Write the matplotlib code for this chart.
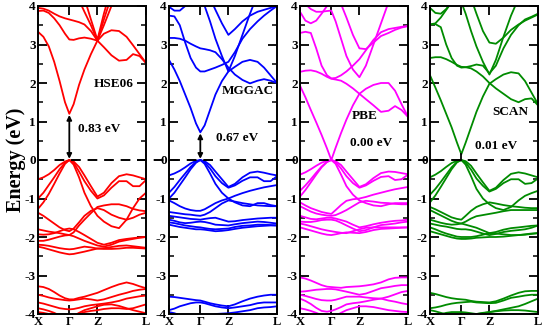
import matplotlib
matplotlib.use('Agg')
import matplotlib.pyplot as plt
from matplotlib.lines import Line2D
from matplotlib.transforms import blended_transform_factory
import matplotlib.ticker as mt

plt.rcParams['font.family'] = ['Liberation Serif', 'DejaVu Serif']
plt.rcParams['font.weight'] = 'bold'

# k-path sample positions (X ... Γ ... Z ... L)
K = [0.0, 0.05, 0.10, 0.15, 0.20, 0.25, 0.29, 0.33, 0.38, 0.43, 0.49,
     0.55, 0.61, 0.68, 0.75, 0.82, 0.88, 0.94, 1.0]
kticks = [0.0, 0.29, 0.55, 1.0]
klabels = ['X', 'Γ', 'Z', 'L']

methods = ['HSE06', 'MGGAC', 'PBE', 'SCAN']
gap_labels = ['0.83 eV', '0.67 eV', '0.00 eV', '0.01 eV']
colors = ['#ff0000', '#0000ff', '#ff00ff', '#008b00']

hse_bands = [
    [3.33, 3.2, 2.95, 2.55, 2.05, 1.5, 1.2, 1.45, 1.95, 2.35, 2.75, 3.1, 3.28, 3.37, 3.35, 3.2, 2.98, 2.75, 2.52],
    [3.87, 3.88, 3.82, 3.68, 3.5, 3.28, 3.13, 3.12, 3.16, 3.18, 3.15, 3.1, 2.93, 2.72, 2.58, 2.6, 2.75, 2.7, 2.52],
    [3.95, 3.93, 3.88, 3.8, 3.73, 3.68, 3.65, 3.62, 3.58, 3.52, 3.35, 3.1, 3.5, 4.0, 4.5, 5, 5, 5, 5],
    [5, 5, 5, 5, 5, 4.8, 4.6, 4.4, 4.15, 3.85, 3.5, 3.1, 3.65, 4.25, 4.8, 5, 5, 5, 5],
    [5, 5, 5, 5, 5, 5, 5, 5, 4.7, 4.2, 3.65, 3.12, 3.8, 4.5, 5, 5, 5, 5, 5],
    [-0.5, -0.45, -0.37, -0.26, -0.13, -0.04, 0.0, -0.04, -0.18, -0.4, -0.68, -0.95, -0.85, -0.6, -0.42, -0.37, -0.4, -0.45, -0.5],
    [-1.0, -0.85, -0.65, -0.45, -0.24, -0.07, 0.0, -0.07, -0.3, -0.55, -0.8, -1.0, -0.92, -0.72, -0.55, -0.55, -0.68, -0.68, -0.52],
    [-1.27, -1.1, -0.88, -0.62, -0.35, -0.1, 0.0, -0.12, -0.45, -0.85, -1.2, -1.45, -1.6, -1.72, -1.77, -1.55, -1.25, -1.0, -0.85],
    [-1.37, -1.45, -1.55, -1.65, -1.75, -1.82, -1.85, -1.78, -1.62, -1.45, -1.32, -1.25, -1.3, -1.42, -1.5, -1.55, -1.5, -1.42, -1.37],
    [-1.8, -1.83, -1.86, -1.88, -1.9, -1.93, -1.95, -1.88, -1.7, -1.55, -1.38, -1.22, -1.18, -1.15, -1.15, -1.2, -1.27, -1.31, -1.33],
    [-1.93, -1.94, -1.93, -1.9, -1.85, -1.8, -1.78, -1.8, -1.87, -1.95, -2.05, -2.15, -2.2, -2.15, -2.08, -2.05, -2.03, -2.01, -2.0],
    [-2.1, -2.1, -2.07, -2.03, -1.99, -1.96, -1.95, -1.98, -2.04, -2.1, -2.16, -2.22, -2.25, -2.2, -2.12, -2.08, -2.05, -2.02, -2.0],
    [-2.2, -2.21, -2.23, -2.26, -2.29, -2.31, -2.32, -2.31, -2.28, -2.25, -2.27, -2.3, -2.29, -2.26, -2.23, -2.22, -2.24, -2.26, -2.28],
    [-2.25, -2.28, -2.32, -2.36, -2.4, -2.43, -2.45, -2.44, -2.41, -2.38, -2.34, -2.3, -2.31, -2.31, -2.3, -2.28, -2.28, -2.29, -2.3],
    [-3.28, -3.3, -3.35, -3.43, -3.52, -3.59, -3.62, -3.62, -3.58, -3.55, -3.5, -3.45, -3.38, -3.3, -3.23, -3.18, -3.22, -3.28, -3.33],
    [-3.5, -3.53, -3.57, -3.6, -3.62, -3.64, -3.65, -3.64, -3.62, -3.6, -3.62, -3.65, -3.62, -3.56, -3.5, -3.45, -3.4, -3.37, -3.35],
    [-3.7, -3.73, -3.77, -3.81, -3.85, -3.87, -3.88, -3.87, -3.84, -3.8, -3.77, -3.75, -3.73, -3.7, -3.66, -3.6, -3.57, -3.54, -3.52],
    [-3.85, -3.88, -3.92, -3.97, -4.04, -4.08, -4.1, -4.05, -3.97, -3.9, -3.85, -3.8, -3.76, -3.75, -3.79, -3.85, -3.9, -3.94, -3.98],
    [-3.95, -3.97, -4.0, -4.03, -4.05, -4.05, -4.05, -4.03, -4.0, -3.95, -3.92, -3.9, -3.87, -3.85, -3.85, -3.87, -3.85, -3.8, -3.75],
]

mggac_bands = [
    [2.6, 2.35, 2.05, 1.7, 1.35, 0.95, 0.72, 0.9, 1.3, 1.7, 2.05, 2.3, 2.42, 2.55, 2.6, 2.55, 2.4, 2.2, 2.0],
    [3.17, 3.17, 3.15, 3.1, 3.02, 2.95, 2.9, 2.88, 2.85, 2.8, 2.62, 2.4, 2.22, 2.08, 1.99, 2.06, 2.1, 2.06, 2.0],
    [3.75, 3.73, 3.5, 3.05, 2.65, 2.4, 2.3, 2.3, 2.35, 2.4, 2.47, 2.55, 2.8, 3.15, 3.4, 3.6, 3.75, 3.88, 4.0],
    [5, 5, 5, 4.8, 4.6, 4.4, 4.3, 4.0, 3.6, 3.15, 2.7, 2.3, 2.7, 3.25, 3.8, 4.3, 5, 5, 5],
    [5, 5, 5, 5, 5, 5, 4.6, 4.45, 4.2, 3.9, 3.55, 3.25, 3.4, 3.6, 3.75, 3.85, 3.9, 3.95, 4.0],
    [3.98, 3.88, 3.88, 4.0, 4.15, 4.3, 5, 5, 5, 5, 5, 5, 5, 5, 5, 5, 5, 5, 5],
    [-0.4, -0.35, -0.28, -0.19, -0.09, -0.02, 0.0, -0.03, -0.13, -0.3, -0.5, -0.7, -0.62, -0.45, -0.33, -0.3, -0.33, -0.37, -0.4],
    [-0.85, -0.7, -0.52, -0.35, -0.18, -0.05, 0.0, -0.06, -0.22, -0.42, -0.6, -0.72, -0.66, -0.54, -0.45, -0.45, -0.55, -0.55, -0.42],
    [-1.0, -0.85, -0.65, -0.45, -0.24, -0.07, 0.0, -0.1, -0.35, -0.62, -0.85, -1.0, -1.1, -1.18, -1.2, -1.12, -1.12, -1.17, -1.2],
    [-1.05, -1.12, -1.2, -1.26, -1.3, -1.32, -1.32, -1.28, -1.2, -1.12, -1.05, -1.0, -0.93, -0.86, -0.8, -0.75, -0.71, -0.68, -0.65],
    [-1.35, -1.37, -1.39, -1.41, -1.42, -1.44, -1.45, -1.42, -1.35, -1.25, -1.13, -1.05, -1.08, -1.12, -1.15, -1.18, -1.19, -1.2, -1.2],
    [-1.45, -1.47, -1.49, -1.51, -1.53, -1.54, -1.55, -1.53, -1.51, -1.5, -1.55, -1.6, -1.59, -1.56, -1.54, -1.52, -1.51, -1.5, -1.5],
    [-1.55, -1.58, -1.62, -1.64, -1.63, -1.61, -1.6, -1.61, -1.64, -1.68, -1.69, -1.7, -1.67, -1.64, -1.62, -1.6, -1.61, -1.63, -1.65],
    [-1.62, -1.64, -1.67, -1.7, -1.72, -1.74, -1.75, -1.77, -1.79, -1.8, -1.79, -1.78, -1.74, -1.71, -1.7, -1.68, -1.68, -1.69, -1.7],
    [-1.68, -1.71, -1.74, -1.76, -1.78, -1.8, -1.8, -1.81, -1.83, -1.85, -1.84, -1.82, -1.79, -1.76, -1.74, -1.72, -1.71, -1.7, -1.7],
    [-3.55, -3.56, -3.58, -3.6, -3.62, -3.64, -3.65, -3.68, -3.72, -3.75, -3.78, -3.8, -3.75, -3.67, -3.6, -3.55, -3.52, -3.5, -3.5],
    [-3.9, -3.86, -3.8, -3.76, -3.72, -3.7, -3.7, -3.72, -3.76, -3.8, -3.83, -3.85, -3.83, -3.8, -3.77, -3.72, -3.7, -3.7, -3.7],
    [-3.95, -3.98, -4.03, -4.07, -4.1, -4.1, -4.1, -4.08, -4.05, -4.0, -3.99, -3.98, -3.96, -3.93, -3.9, -3.85, -3.83, -3.82, -3.8],
]

pbe_bands = [
    [1.93, 1.63, 1.3, 0.98, 0.65, 0.3, 0.0, 0.32, 0.7, 1.05, 1.42, 1.72, 1.85, 1.95, 2.0, 2.0, 1.8, 1.45, 1.12],
    [2.29, 2.32, 2.33, 2.3, 2.24, 2.16, 2.11, 2.09, 2.06, 1.98, 1.86, 1.72, 1.58, 1.42, 1.25, 1.28, 1.4, 1.3, 1.12],
    [3.3, 3.33, 3.3, 2.9, 2.45, 2.2, 2.12, 2.13, 2.2, 2.3, 2.45, 2.62, 2.85, 3.12, 3.32, 3.4, 3.43, 3.46, 3.48],
    [4.2, 4.05, 3.92, 3.85, 3.85, 3.87, 3.88, 3.6, 3.15, 2.7, 2.35, 2.15, 2.45, 3.0, 3.55, 4.1, 5, 5, 5],
    [5, 5, 5, 5, 5, 4.8, 4.6, 4.35, 4.05, 3.7, 3.25, 2.9, 2.88, 3.05, 3.22, 3.3, 3.38, 3.44, 3.48],
    [3.85, 3.62, 3.55, 3.62, 3.8, 4.0, 4.15, 4.4, 4.8, 5, 5, 5, 5, 5, 5, 5, 5, 5, 5],
    [-0.38, -0.32, -0.24, -0.15, -0.07, -0.02, 0.0, -0.03, -0.13, -0.3, -0.5, -0.7, -0.63, -0.47, -0.34, -0.3, -0.31, -0.34, -0.37],
    [-0.8, -0.66, -0.5, -0.33, -0.17, -0.05, 0.0, -0.06, -0.22, -0.42, -0.6, -0.72, -0.66, -0.54, -0.44, -0.42, -0.52, -0.5, -0.38],
    [-0.95, -0.78, -0.58, -0.38, -0.19, -0.05, 0.0, -0.1, -0.38, -0.68, -0.9, -1.05, -1.12, -1.18, -1.2, -1.15, -1.12, -1.12, -1.12],
    [-1.1, -1.18, -1.25, -1.3, -1.35, -1.38, -1.4, -1.3, -1.17, -1.06, -1.02, -1.0, -0.96, -0.9, -0.85, -0.8, -0.76, -0.73, -0.7],
    [-1.2, -1.27, -1.34, -1.39, -1.42, -1.44, -1.45, -1.43, -1.37, -1.3, -1.2, -1.1, -1.06, -1.08, -1.11, -1.12, -1.14, -1.15, -1.15],
    [-1.45, -1.49, -1.53, -1.54, -1.52, -1.5, -1.5, -1.52, -1.56, -1.6, -1.68, -1.75, -1.72, -1.67, -1.63, -1.6, -1.58, -1.57, -1.55],
    [-1.6, -1.61, -1.61, -1.59, -1.56, -1.55, -1.55, -1.57, -1.63, -1.7, -1.78, -1.85, -1.82, -1.75, -1.69, -1.67, -1.65, -1.62, -1.6],
    [-1.65, -1.68, -1.72, -1.76, -1.8, -1.83, -1.85, -1.87, -1.89, -1.9, -1.85, -1.8, -1.76, -1.75, -1.75, -1.75, -1.75, -1.75, -1.75],
    [-1.75, -1.79, -1.83, -1.87, -1.91, -1.94, -1.95, -1.93, -1.9, -1.88, -1.89, -1.9, -1.87, -1.82, -1.79, -1.78, -1.77, -1.76, -1.75],
    [-3.05, -3.08, -3.13, -3.19, -3.25, -3.29, -3.3, -3.31, -3.32, -3.3, -3.29, -3.28, -3.26, -3.23, -3.18, -3.1, -3.06, -3.05, -3.05],
    [-3.42, -3.41, -3.39, -3.37, -3.36, -3.35, -3.35, -3.36, -3.39, -3.42, -3.46, -3.5, -3.47, -3.4, -3.33, -3.3, -3.27, -3.25, -3.25],
    [-3.5, -3.53, -3.57, -3.61, -3.64, -3.65, -3.65, -3.63, -3.59, -3.55, -3.55, -3.55, -3.57, -3.59, -3.6, -3.55, -3.49, -3.43, -3.4],
    [-3.6, -3.66, -3.74, -3.84, -3.92, -3.94, -3.92, -3.88, -3.82, -3.75, -3.72, -3.7, -3.67, -3.63, -3.6, -3.65, -3.68, -3.72, -3.75],
    [-3.85, -3.88, -3.92, -3.97, -4.03, -4.08, -4.1, -4.05, -3.97, -3.9, -3.85, -3.8, -3.8, -3.82, -3.86, -3.9, -3.92, -3.94, -3.95],
]

scan_bands = [
    [2.2, 1.88, 1.55, 1.2, 0.85, 0.45, 0.15, 0.45, 0.85, 1.25, 1.65, 1.98, 2.1, 2.22, 2.28, 2.25, 2.05, 1.75, 1.45],
    [2.65, 2.67, 2.67, 2.62, 2.55, 2.47, 2.42, 2.41, 2.38, 2.3, 2.17, 2.0, 1.86, 1.72, 1.58, 1.5, 1.58, 1.6, 1.42],
    [3.52, 3.53, 3.45, 3.0, 2.65, 2.45, 2.4, 2.41, 2.44, 2.48, 2.45, 2.25, 2.45, 2.9, 3.25, 3.5, 3.65, 3.72, 3.8],
    [5, 5, 5, 5, 4.7, 4.3, 4.1, 3.8, 3.35, 2.95, 2.55, 2.22, 2.6, 3.2, 3.75, 4.2, 5, 5, 5],
    [5, 5, 5, 5, 5, 5, 4.8, 4.55, 4.2, 3.8, 3.35, 3.05, 3.02, 3.18, 3.38, 3.52, 3.62, 3.7, 3.78],
    [3.95, 3.82, 3.8, 3.92, 4.1, 4.3, 5, 5, 5, 5, 5, 5, 5, 5, 5, 5, 5, 5, 5],
    [3.52, 3.55, 3.7, 3.9, 4.1, 4.4, 5, 5, 5, 5, 5, 5, 5, 5, 5, 5, 5, 5, 5],
    [-0.45, -0.38, -0.29, -0.18, -0.08, -0.02, 0.0, -0.03, -0.15, -0.35, -0.58, -0.8, -0.72, -0.52, -0.36, -0.32, -0.35, -0.4, -0.45],
    [-0.9, -0.75, -0.57, -0.38, -0.19, -0.05, 0.0, -0.07, -0.25, -0.48, -0.67, -0.82, -0.75, -0.6, -0.5, -0.5, -0.62, -0.6, -0.48],
    [-1.1, -0.92, -0.7, -0.47, -0.24, -0.06, 0.0, -0.12, -0.42, -0.75, -1.0, -1.15, -1.25, -1.3, -1.22, -1.05, -0.93, -0.86, -0.8],
    [-1.22, -1.28, -1.35, -1.42, -1.49, -1.53, -1.55, -1.45, -1.32, -1.22, -1.15, -1.1, -1.13, -1.17, -1.2, -1.22, -1.24, -1.25, -1.25],
    [-1.3, -1.37, -1.44, -1.51, -1.58, -1.63, -1.65, -1.6, -1.52, -1.46, -1.43, -1.4, -1.37, -1.33, -1.3, -1.3, -1.3, -1.3, -1.3],
    [-1.55, -1.59, -1.63, -1.66, -1.68, -1.67, -1.65, -1.68, -1.72, -1.76, -1.83, -1.9, -1.87, -1.81, -1.77, -1.75, -1.73, -1.71, -1.7],
    [-1.65, -1.68, -1.71, -1.73, -1.76, -1.79, -1.8, -1.8, -1.82, -1.86, -1.91, -1.95, -1.92, -1.87, -1.84, -1.82, -1.8, -1.76, -1.7],
    [-1.75, -1.8, -1.86, -1.91, -1.95, -1.99, -2.0, -2.0, -2.0, -1.98, -1.94, -1.9, -1.91, -1.93, -1.95, -1.95, -1.94, -1.92, -1.9],
    [-1.85, -1.89, -1.93, -1.97, -2.01, -2.04, -2.05, -2.05, -2.04, -2.02, -2.01, -2.0, -2.0, -1.99, -1.97, -1.95, -1.93, -1.91, -1.9],
    [-3.45, -3.48, -3.52, -3.56, -3.59, -3.61, -3.62, -3.63, -3.66, -3.68, -3.69, -3.7, -3.67, -3.6, -3.52, -3.45, -3.41, -3.4, -3.4],
    [-3.85, -3.83, -3.8, -3.76, -3.73, -3.71, -3.7, -3.69, -3.68, -3.7, -3.71, -3.72, -3.71, -3.65, -3.58, -3.55, -3.52, -3.5, -3.5],
    [-3.9, -3.93, -3.97, -4.01, -4.05, -4.08, -4.1, -4.07, -4.03, -4.0, -3.97, -3.95, -3.92, -3.88, -3.84, -3.8, -3.74, -3.67, -3.6],
    [-4.1, -4.06, -4.01, -3.97, -3.95, -3.95, -3.95, -3.96, -3.98, -4.0, -3.98, -3.95, -3.93, -3.91, -3.9, -3.9, -3.91, -3.93, -3.95],
]

all_bands = [hse_bands, mggac_bands, pbe_bands, scan_bands]

# label positions (k, E) for method name and gap text
name_pos = [(0.70, 1.97), (0.73, 1.8), (0.60, 1.15), (0.74, 1.25)]
gap_pos = [(0.57, 0.80), (0.63, 0.57), (0.66, 0.45), (0.61, 0.37)]

fig = plt.figure(figsize=(5.45, 3.27), dpi=100)
lefts = [38, 169, 300, 430]
W, H = 545.0, 327.0
axes = []
for i in range(4):
    ax = fig.add_axes([lefts[i] / W, 13 / H, 108 / W, 308 / H])
    axes.append(ax)
    for band in all_bands[i]:
        ax.plot(K, band, color=colors[i], lw=1.3, solid_joinstyle='round')
    ax.set_xlim(0, 1)
    ax.set_ylim(-4, 4)
    ax.set_xticks(kticks)
    ax.set_xticklabels(klabels)
    ax.set_yticks(range(-4, 5))
    ax.yaxis.set_major_formatter(mt.FuncFormatter(lambda v, p: '%d' % v))
    ax.yaxis.set_minor_locator(mt.MultipleLocator(0.5))
    ax.tick_params(axis='both', which='major', direction='in', length=6.5, width=1.3,
                   top=True, right=True, labelsize=9.5, pad=1.5)
    ax.tick_params(axis='x', which='major', pad=1.2, labelsize=9)
    ax.tick_params(axis='y', which='minor', direction='in', length=3.5, width=1.1,
                   right=True, left=True)
    for lab in ax.get_xticklabels() + ax.get_yticklabels():
        lab.set_fontweight('bold')
    for s in ax.spines.values():
        s.set_linewidth(1.4)
    ax.text(name_pos[i][0], name_pos[i][1], methods[i], fontsize=9.5, fontweight='bold',
            ha='center', va='center')
    ax.text(gap_pos[i][0], gap_pos[i][1], gap_labels[i], fontsize=9.5, fontweight='bold',
            ha='center', va='center')

# gap arrows at Γ
cbm_hse = min(hse_bands[0])
cbm_mggac = min(mggac_bands[0])
axes[0].annotate('', xy=(kticks[1], cbm_hse - 0.03), xytext=(kticks[1], 0.03),
                 arrowprops=dict(arrowstyle='<|-|>', color='black', lw=1.3,
                                 mutation_scale=7, shrinkA=0, shrinkB=0))
axes[1].annotate('', xy=(kticks[1], cbm_mggac - 0.03), xytext=(kticks[1], 0.03),
                 arrowprops=dict(arrowstyle='<|-|>', color='black', lw=1.3,
                                 mutation_scale=7, shrinkA=0, shrinkB=0))
axes[3].plot([kticks[1], kticks[1]], [0.0, min(scan_bands[0])], color='black', lw=1.3)

axes[0].set_ylabel('Energy (eV)', fontsize=14.5, fontweight='bold', labelpad=-1)

# dashed Fermi level across all panels
tr = blended_transform_factory(fig.transFigure, axes[0].transData)
fig.add_artist(Line2D([lefts[0] / W, (lefts[3] + 108) / W], [0, 0], transform=tr,
                      color='black', lw=1.4, dashes=(5, 3.5), zorder=5))

fig.savefig('out.png', dpi=100)
